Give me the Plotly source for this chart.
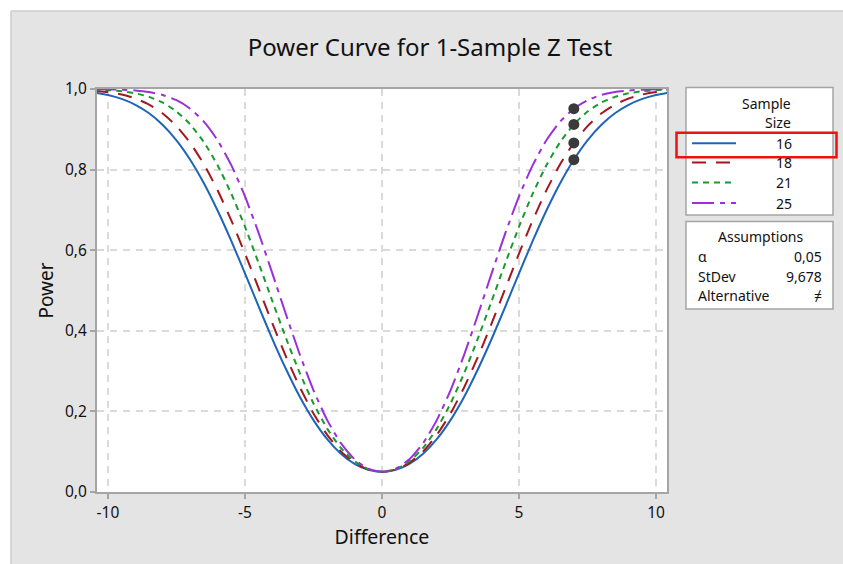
import plotly.graph_objects as go

# ---------------- data ----------------
difference = [-10.5, -10.0, -9.5, -9.0, -8.5, -8.0, -7.5, -7.0, -6.5, -6.0, -5.5, -5.0,
              -4.5, -4.0, -3.5, -3.0, -2.5, -2.0, -1.5, -1.0, -0.5, 0.0,
              0.5, 1.0, 1.5, 2.0, 2.5, 3.0, 3.5, 4.0, 4.5, 5.0, 5.5, 6.0, 6.5, 7.0,
              7.5, 8.0, 8.5, 9.0, 9.5, 10.0, 10.5]

power_16 = [0.9913, 0.9851, 0.9754, 0.9608, 0.9398, 0.9109, 0.8728, 0.8246, 0.7662, 0.6984, 0.6229, 0.5424,
            0.4602, 0.3796, 0.3046, 0.2364, 0.1784, 0.1312, 0.0951, 0.0698, 0.0549, 0.0500,
            0.0549, 0.0698, 0.0951, 0.1312, 0.1784, 0.2364, 0.3046, 0.3796, 0.4602, 0.5424, 0.6229, 0.6984, 0.7662, 0.8246,
            0.8728, 0.9109, 0.9398, 0.9608, 0.9754, 0.9851, 0.9913]
power_18 = [0.9959, 0.9923, 0.9863, 0.9764, 0.9613, 0.9390, 0.9079, 0.8663, 0.8131, 0.7487, 0.6740, 0.5917,
            0.5051, 0.4183, 0.3354, 0.2600, 0.1949, 0.1417, 0.1008, 0.0723, 0.0556, 0.0500,
            0.0556, 0.0723, 0.1008, 0.1417, 0.1949, 0.2600, 0.3354, 0.4183, 0.5051, 0.5917, 0.6740, 0.7487, 0.8131, 0.8663,
            0.9079, 0.9390, 0.9613, 0.9764, 0.9863, 0.9923, 0.9959]
power_21 = [0.9987, 0.9972, 0.9944, 0.9893, 0.9805, 0.9662, 0.9442, 0.9122, 0.8682, 0.8109, 0.7403, 0.6582,
            0.5678, 0.4737, 0.3812, 0.2951, 0.2196, 0.1573, 0.1095, 0.0761, 0.0564, 0.0500,
            0.0564, 0.0761, 0.1095, 0.1573, 0.2196, 0.2951, 0.3812, 0.4737, 0.5678, 0.6582, 0.7403, 0.8109, 0.8682, 0.9122,
            0.9442, 0.9662, 0.9805, 0.9893, 0.9944, 0.9972, 0.9987]
power_25 = [0.9997, 0.9993, 0.9984, 0.9964, 0.9925, 0.9851, 0.9722, 0.9512, 0.9190, 0.8728, 0.8110, 0.7335,
            0.6424, 0.5424, 0.4397, 0.3411, 0.2524, 0.1784, 0.1211, 0.0811, 0.0577, 0.0500,
            0.0577, 0.0811, 0.1211, 0.1784, 0.2524, 0.3411, 0.4397, 0.5424, 0.6424, 0.7335, 0.8110, 0.8728, 0.9190, 0.9512,
            0.9722, 0.9851, 0.9925, 0.9964, 0.9984, 0.9993, 0.9997]

sample_sizes = ["16", "18", "21", "25"]
target_difference = [7, 7, 7, 7]
target_power = [0.8246, 0.8663, 0.9122, 0.9512]

x_tick_vals = [-10, -5, 0, 5, 10]
x_tick_text = ["-10", "-5", "0", "5", "10"]
y_tick_vals = [0.0, 0.2, 0.4, 0.6, 0.8, 1.0]
y_tick_text = ["0,0", "0,2", "0,4", "0,6", "0,8", "1,0"]

assump_labels = ["α", "StDev", "Alternative"]
assump_values = ["0,05", "9,678", "≠"]

# ---------------- styling ----------------
FONT = "Noto Sans"
TXT = "#111111"
colors = ["#1f65b7", "#a3171d", "#1a9a2e", "#9b30d9"]
dashes = ["solid", "14px,10px", "6px,5px", "22px,6px,5px,6px"]
series = [power_16, power_18, power_21, power_25]

W, H = 843, 564
ML, MR, MT, MB = 97, 176, 89, 72
PW, PH = W - ML - MR, H - MT - MB


def px(x):
    return (x - ML) / PW


def py(y):
    return (H - MB - y) / PH


fig = go.Figure()
for s, c, d, n in zip(series, colors, dashes, sample_sizes):
    fig.add_trace(go.Scatter(x=difference, y=s, mode="lines", name=n,
                             line=dict(color=c, width=2, dash=d, shape="spline", smoothing=0.6),
                             showlegend=False, hoverinfo="skip"))
fig.add_trace(go.Scatter(x=target_difference, y=target_power, mode="markers",
                         marker=dict(color="#3a3a3a", size=11), showlegend=False))

shapes = []
# white strips outside the figure frame
shapes.append(dict(type="rect", xref="paper", yref="paper", x0=px(0), x1=px(11), y0=py(H), y1=py(0),
                   fillcolor="white", line=dict(width=0), layer="above"))
shapes.append(dict(type="rect", xref="paper", yref="paper", x0=px(0), x1=px(W), y0=py(11), y1=py(0),
                   fillcolor="white", line=dict(width=0), layer="above"))
shapes.append(dict(type="line", xref="paper", yref="paper", x0=px(11), x1=px(11), y0=py(H), y1=py(11),
                   line=dict(color="#cccccc", width=1.5)))
shapes.append(dict(type="line", xref="paper", yref="paper", x0=px(11), x1=px(W), y0=py(11), y1=py(11),
                   line=dict(color="#cccccc", width=1.5)))
# legend boxes
shapes.append(dict(type="rect", xref="paper", yref="paper", x0=px(686), x1=px(833), y0=py(215), y1=py(87.5),
                   fillcolor="white", line=dict(color="#a5a5a5", width=1.5)))
shapes.append(dict(type="rect", xref="paper", yref="paper", x0=px(686), x1=px(833), y0=py(309), y1=py(221.5),
                   fillcolor="white", line=dict(color="#a5a5a5", width=1.5)))
leg_y = [143.3, 162.5, 182.5, 203]
for yy, c, d in zip(leg_y, colors, dashes):
    shapes.append(dict(type="line", xref="paper", yref="paper", x0=px(692), x1=px(736), y0=py(yy), y1=py(yy),
                       line=dict(color=c, width=2, dash=d)))
# red highlight box
shapes.append(dict(type="rect", xref="paper", yref="paper", x0=px(676.5), x1=px(836.5), y0=py(157.3), y1=py(132.7),
                   fillcolor="rgba(0,0,0,0)", line=dict(color="#ee1111", width=2.5)))

LEG_FS = 14
annotations = []
annotations.append(dict(xref="paper", yref="paper", x=px(793), y=py(103), text="Sample", showarrow=False,
                        xanchor="right", yanchor="middle", font=dict(family=FONT, size=LEG_FS, color=TXT)))
annotations.append(dict(xref="paper", yref="paper", x=px(793), y=py(122.5), text="Size", showarrow=False,
                        xanchor="right", yanchor="middle", font=dict(family=FONT, size=LEG_FS, color=TXT)))
for yy, n in zip(leg_y, sample_sizes):
    annotations.append(dict(xref="paper", yref="paper", x=px(794), y=py(yy), text=n, showarrow=False,
                            xanchor="right", yanchor="middle", font=dict(family=FONT, size=LEG_FS, color=TXT)))
annotations.append(dict(xref="paper", yref="paper", x=px(760), y=py(236), text="Assumptions", showarrow=False,
                        xanchor="center", yanchor="middle", font=dict(family=FONT, size=LEG_FS, color=TXT)))
for yy, lab, val in zip([256, 276, 295.5], assump_labels, assump_values):
    annotations.append(dict(xref="paper", yref="paper", x=px(696), y=py(yy), text=lab, showarrow=False,
                            xanchor="left", yanchor="middle", font=dict(family=FONT, size=LEG_FS, color=TXT)))
    annotations.append(dict(xref="paper", yref="paper", x=px(824), y=py(yy), text=val, showarrow=False,
                            xanchor="right", yanchor="middle", font=dict(family=FONT, size=LEG_FS, color=TXT)))

axis_common = dict(showline=True, mirror=True, linecolor="#a5a5a5", linewidth=2,
                   ticks="outside", ticklen=5, tickcolor="#a5a5a5", tickwidth=2,
                   showgrid=True, gridcolor="#dadada", gridwidth=2, griddash="7px,6px",
                   zeroline=False, tickfont=dict(family=FONT, size=15.5, color=TXT))

fig.update_layout(
    width=W, height=H,
    margin=dict(l=ML, r=MR, t=MT, b=MB),
    paper_bgcolor="#e4e4e4", plot_bgcolor="white",
    title=dict(text="Power Curve for 1-Sample Z Test", xref="container", x=430 / W, xanchor="center",
               yref="container", y=1 - 48 / H, yanchor="middle",
               font=dict(family=FONT, size=24, color=TXT)),
    xaxis=dict(range=[-10.4, 10.4], tickvals=x_tick_vals, ticktext=x_tick_text,
               title=dict(text="Difference", font=dict(family=FONT, size=19.5, color=TXT), standoff=7),
               **axis_common),
    yaxis=dict(range=[0, 1], tickvals=y_tick_vals, ticktext=y_tick_text,
               title=dict(text="Power", font=dict(family=FONT, size=19, color=TXT), standoff=6),
               **axis_common),
    shapes=shapes, annotations=annotations,
)

fig.write_html("out.html", config={"displayModeBar": False},
               post_script="document.body.style.margin='0';document.body.style.overflow='hidden';")
